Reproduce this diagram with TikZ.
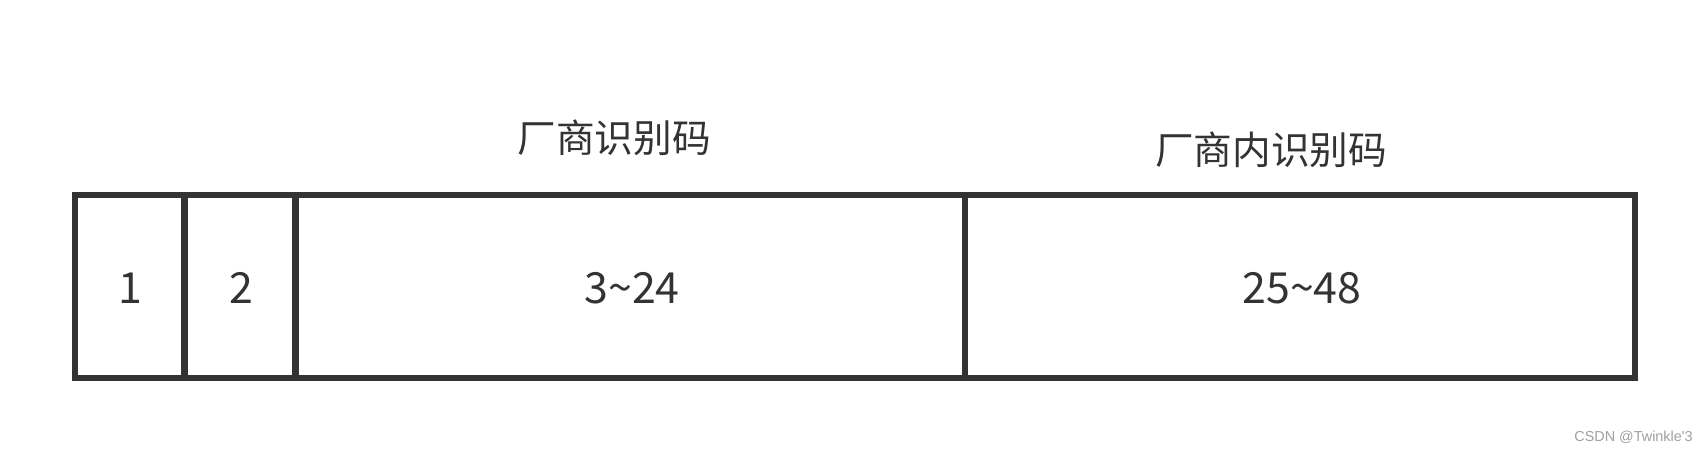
\documentclass[tikz,border=0pt]{standalone}
\usepackage{fontspec}
\setmainfont{Noto Sans CJK SC}
\newfontfamily\wmfont{Liberation Sans}
\definecolor{boxgray}{HTML}{333333}
\definecolor{wmgray}{HTML}{A0A0A0}

\begin{document}
\begin{tikzpicture}[x=0.1mm, y=0.1mm, every node/.style={inner sep=0pt, text=boxgray}]
\tikzstyle{cellline}=[draw=boxgray, line width=1.75pt]
\tikzstyle{numtext}=[font=\fontsize{12.2pt}{14pt}\selectfont]
\tikzstyle{cjktext}=[font=\fontsize{11pt}{13pt}\selectfont]
\useasboundingbox (0,0) rectangle (1708,-453);
\fill [white] (0,0) rectangle (1708,-453);
% the four fields
\draw [cellline] (75,-195) rectangle (1635,-378);
\draw [cellline] (184.5,-195) -- (184.5,-378);
\draw [cellline] (295.5,-195) -- (295.5,-378);
\draw [cellline] (965,-195) -- (965,-378);
\node [numtext] (bitone) at (130,-288) {1};
\node [numtext] (bittwo) at (241,-288) {2};
\node [numtext] (bitsmfr) at (632,-288) {3\char"007E 24};
\node [numtext] (bitsdev) at (1302,-288) {25\char"007E 48};
% labels above
\node [cjktext] (mfrlabel) at (614,-138) {厂商识别码};
\node [cjktext] (devlabel) at (1271,-150) {厂商内识别码};
% watermark
\node [font=\wmfont\fontsize{4.1pt}{5pt}\selectfont, text=wmgray] (mark) at (1633.5,-437) {CSDN @Twinkle'3};
\end{tikzpicture}
\end{document}
